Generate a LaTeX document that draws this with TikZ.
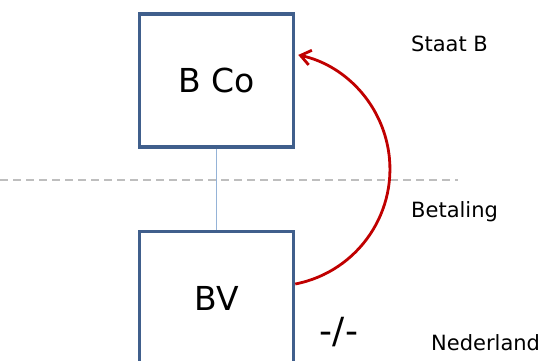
\documentclass[tikz,border=0pt]{standalone}
\usepackage{fontspec}
\setmainfont{DejaVu Sans}
\usetikzlibrary{arrows.meta}
\tikzstyle{entity} = [rectangle, draw=BoxCol, line width=3.5pt, minimum width=154pt, minimum height=133pt, inner sep=0pt, font=\fontsize{33}{38}\selectfont]
\tikzstyle{label} = [anchor=base west, inner sep=0pt, font=\fontsize{21}{24}\selectfont]
\definecolor{BoxCol}{RGB}{64, 95, 140}
\definecolor{LinkCol}{RGB}{149, 179, 215}
\definecolor{BorderCol}{RGB}{190, 190, 190}
\definecolor{PayCol}{RGB}{192, 0, 0}
\begin{document}
\begin{tikzpicture}[x=1pt,y=-1pt]
                    \useasboundingbox (0,0) rectangle (544,360);

                    \node[entity] (bco) at (216.5,80.5) {B Co};
                    \node[entity] (bv) at (216.5,298) {BV};

                    \coordinate (borderwest) at (0,180);
                    \coordinate (bordereast) at (458,180);
                    \draw [BorderCol, line width=1.5pt, dash pattern=on 8pt off 5pt] (borderwest) -- (bordereast);

                    \draw [LinkCol, line width=1.5pt] (bco.south) -- (bv.north);

                    \coordinate (paystart) at ([yshift=14pt]bv.east);
                    \draw [-{Straight Barb[length=10pt,width=15pt]},PayCol,line width=2.8pt] (paystart) arc[start angle=79, end angle=-77.5, radius=117];

                    \node[label] (staat) at (411,51) {Staat B};
                    \node[label] (betaling) at (411,217) {Betaling};
                    \node[label] (nl) at (431,350) {Nederland};
                    \node[font=\fontsize{36}{40}\selectfont] (tax) at (339,332) {-/-};

                \end{tikzpicture}
\end{document}
